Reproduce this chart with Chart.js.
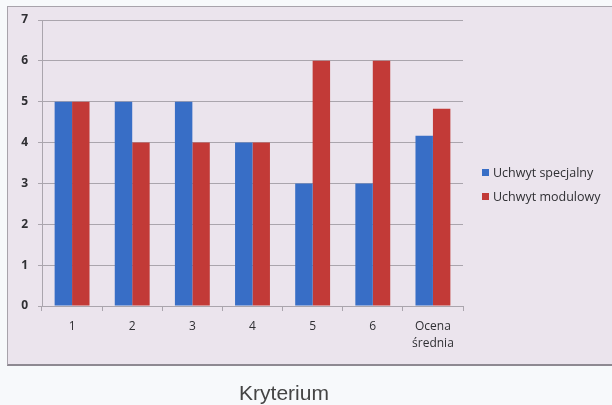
<!DOCTYPE html>
<html><head><meta charset="utf-8">
<script src="https://cdn.jsdelivr.net/npm/chart.js@4"></script>
<style>
html,body{margin:0;padding:0;background:#f7f9fb;width:612px;height:405px;overflow:hidden;}
#box{position:absolute;left:7px;top:6px;width:620px;height:357px;background:#ebe4ed;border:1px solid #a8a3ab;border-bottom:2px solid #8e8992;}
#wrap{position:absolute;left:0;top:0;width:612px;height:405px;}
#legend{position:absolute;left:482px;top:166px;font-family:"Open Sans",sans-serif;font-size:12.5px;color:#2f2f33;}
#legend div{height:24px;line-height:14px;white-space:nowrap;}
#legend span.sw{display:inline-block;width:7px;height:7px;margin-right:4px;vertical-align:1px;}
#xtitle{position:absolute;left:0;width:568px;top:381px;text-align:center;font-family:"Liberation Sans",Arial,sans-serif;font-size:21px;color:#444;}
</style></head>
<body>
<div id="box"></div>
<div id="wrap"><canvas id="c" width="612" height="405"></canvas></div>
<div id="legend"></div>
<div id="xtitle">Kryterium</div>
<script>
const categories = ["1","2","3","4","5","6",["Ocena","średnia"]];
const seriesNames = ["Uchwyt specjalny","Uchwyt modulowy"];
const uchwytSpecjalny = [5,5,5,4,3,3,4.17];
const uchwytModulowy = [5,4,4,4,6,6,4.83];
const yTicks = [0,1,2,3,4,5,6,7];
const colors = ["#386ec6","#c23a37"];

const leg = document.getElementById('legend');
seriesNames.forEach((l,i)=>{
  const d=document.createElement('div');
  d.innerHTML='<span class="sw" style="background:'+colors[i]+'"></span>'+l;
  leg.appendChild(d);
});

const gridColor = "#aaa5ad";
new Chart(document.getElementById('c'),{
  type:'bar',
  data:{labels:categories,datasets:[
    {label:seriesNames[0],data:uchwytSpecjalny,backgroundColor:colors[0],categoryPercentage:0.58,barPercentage:1},
    {label:seriesNames[1],data:uchwytModulowy,backgroundColor:colors[1],categoryPercentage:0.58,barPercentage:1}
  ]},
  options:{
    responsive:false,animation:false,
    layout:{padding:{left:0,right:149,top:20,bottom:0}},
    plugins:{legend:{display:false},tooltip:{enabled:false}},
    scales:{
      x:{
        afterFit:s=>{s.height=99;},
        grid:{drawOnChartArea:false,drawTicks:true,tickLength:5,color:gridColor,offset:true},
        border:{color:gridColor,width:1},
        ticks:{color:"#2f2f33",padding:7,font:{family:"Open Sans",size:12,lineHeight:1.4},maxRotation:0},
      },
      y:{
        min:0,max:7,
        afterFit:s=>{s.width=42;},
        afterBuildTicks:s=>{s.ticks=yTicks.map(v=>({value:v}));},
        grid:{color:gridColor,tickLength:4,lineWidth:1},
        border:{color:gridColor,width:1},
        ticks:{color:"#2f2f33",padding:10,font:{family:"Open Sans",size:12,weight:'bold'},stepSize:1}
      }
    }
  }
});
</script>
</body></html>
